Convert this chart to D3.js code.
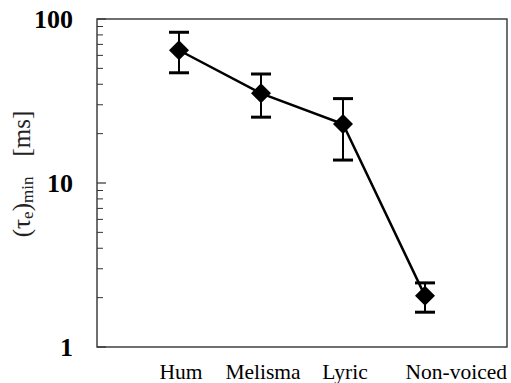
<!DOCTYPE html>
<html><head><meta charset="utf-8">
<script src="https://cdn.jsdelivr.net/npm/d3@7"></script>
<style>body{margin:0;background:#fff}svg{display:block}</style>
</head><body>
<script>
const categories = ["Hum", "Melisma", "Lyric", "Non-voiced"];
const values = [64.5, 35.2, 22.9, 2.05];
const errUpper = [83, 46.2, 32.7, 2.46];
const errLower = [47, 25.2, 13.8, 1.63];
const yTicks = [1, 10, 100];

const W = 511, H = 383;
const FONT = '"Liberation Serif", "Times New Roman", Times, serif';
const m = {left: 97, right: 4, top: 19, bottom: 36};
const svg = d3.select("body").append("svg").attr("width", W).attr("height", H);

const x = d3.scalePoint().domain(categories).range([m.left, W - m.right]).padding(1);
const y = d3.scaleLog().domain([1, 100]).range([H - m.bottom, m.top]);

// minor ticks (inside, left)
const minor = [];
for (let d = 1; d <= 10; d *= 10) for (let k = 2; k <= 9; k++) minor.push(k * d);
svg.append("g").selectAll("line").data(minor).join("line")
  .attr("x1", m.left).attr("x2", m.left + 6)
  .attr("y1", d => y(d)).attr("y2", d => y(d))
  .attr("stroke", "#333").attr("stroke-width", 1);
svg.append("g").selectAll("line").data(yTicks).join("line")
  .attr("x1", m.left).attr("x2", m.left + 9)
  .attr("y1", d => y(d)).attr("y2", d => y(d))
  .attr("stroke", "#333").attr("stroke-width", 1.2);

// frame
svg.append("rect").attr("x", m.left).attr("y", m.top)
  .attr("width", W - m.right - m.left).attr("height", H - m.bottom - m.top)
  .attr("fill", "none").attr("stroke", "#333").attr("stroke-width", 1.4);

// y tick labels
svg.append("g").selectAll("text").data(yTicks).join("text")
  .attr("x", 73).attr("y", d => y(d)).attr("dy", "0.34em")
  .attr("text-anchor", "end")
  .style("font-family", FONT)
  .style("font-weight", "bold").style("font-size", "26px")
  .text(d => d);

// x labels (last one right-aligned to the frame edge)
const plotRight = W - m.right;
const last = categories.length - 1;
svg.append("g").selectAll("text").data(categories).join("text")
  .style("font-family", FONT)
  .style("font-size", "21.5px")
  .attr("y", 379)
  .attr("text-anchor", (d, i) => i === last ? "end" : "middle")
  .attr("x", (d, i) => i === last ? plotRight : x(d) + 2)
  .text(d => d);

// y axis title
const yl = svg.append("text")
  .attr("transform", `translate(30,${174}) rotate(-90)`)
  .attr("text-anchor", "middle")
  .style("font-family", FONT)
  .style("font-size", "25px").attr("fill", "#222");
yl.append("tspan").text("(τ");
yl.append("tspan").style("font-size", "17px").attr("dy", 3).text("e");
yl.append("tspan").attr("dy", -3).text(")");
yl.append("tspan").style("font-size", "17px").attr("dy", 3).text("min");
yl.append("tspan").attr("dy", -3).attr("dx", 20).text("[ms]");

// error bars
const eb = svg.append("g").attr("stroke", "#000");
categories.forEach((c, i) => {
  eb.append("line").attr("x1", x(c)).attr("x2", x(c))
    .attr("y1", y(errLower[i])).attr("y2", y(errUpper[i])).attr("stroke-width", 2);
  [errLower[i], errUpper[i]].forEach(v => {
    eb.append("line").attr("x1", x(c) - 10).attr("x2", x(c) + 10)
      .attr("y1", y(v)).attr("y2", y(v)).attr("stroke-width", 3);
  });
});

// line
const data = categories.map((c, i) => ({c, v: values[i]}));
svg.append("path").datum(data)
  .attr("d", d3.line().x(d => x(d.c)).y(d => y(d.v)))
  .attr("fill", "none").attr("stroke", "#000").attr("stroke-width", 2.5);

// markers
svg.append("g").selectAll("path").data(data).join("path")
  .attr("d", d3.symbol(d3.symbolSquare, 200))
  .attr("transform", d => `translate(${x(d.c)},${y(d.v)}) rotate(45)`)
  .attr("fill", "#000");
</script>
</body></html>
